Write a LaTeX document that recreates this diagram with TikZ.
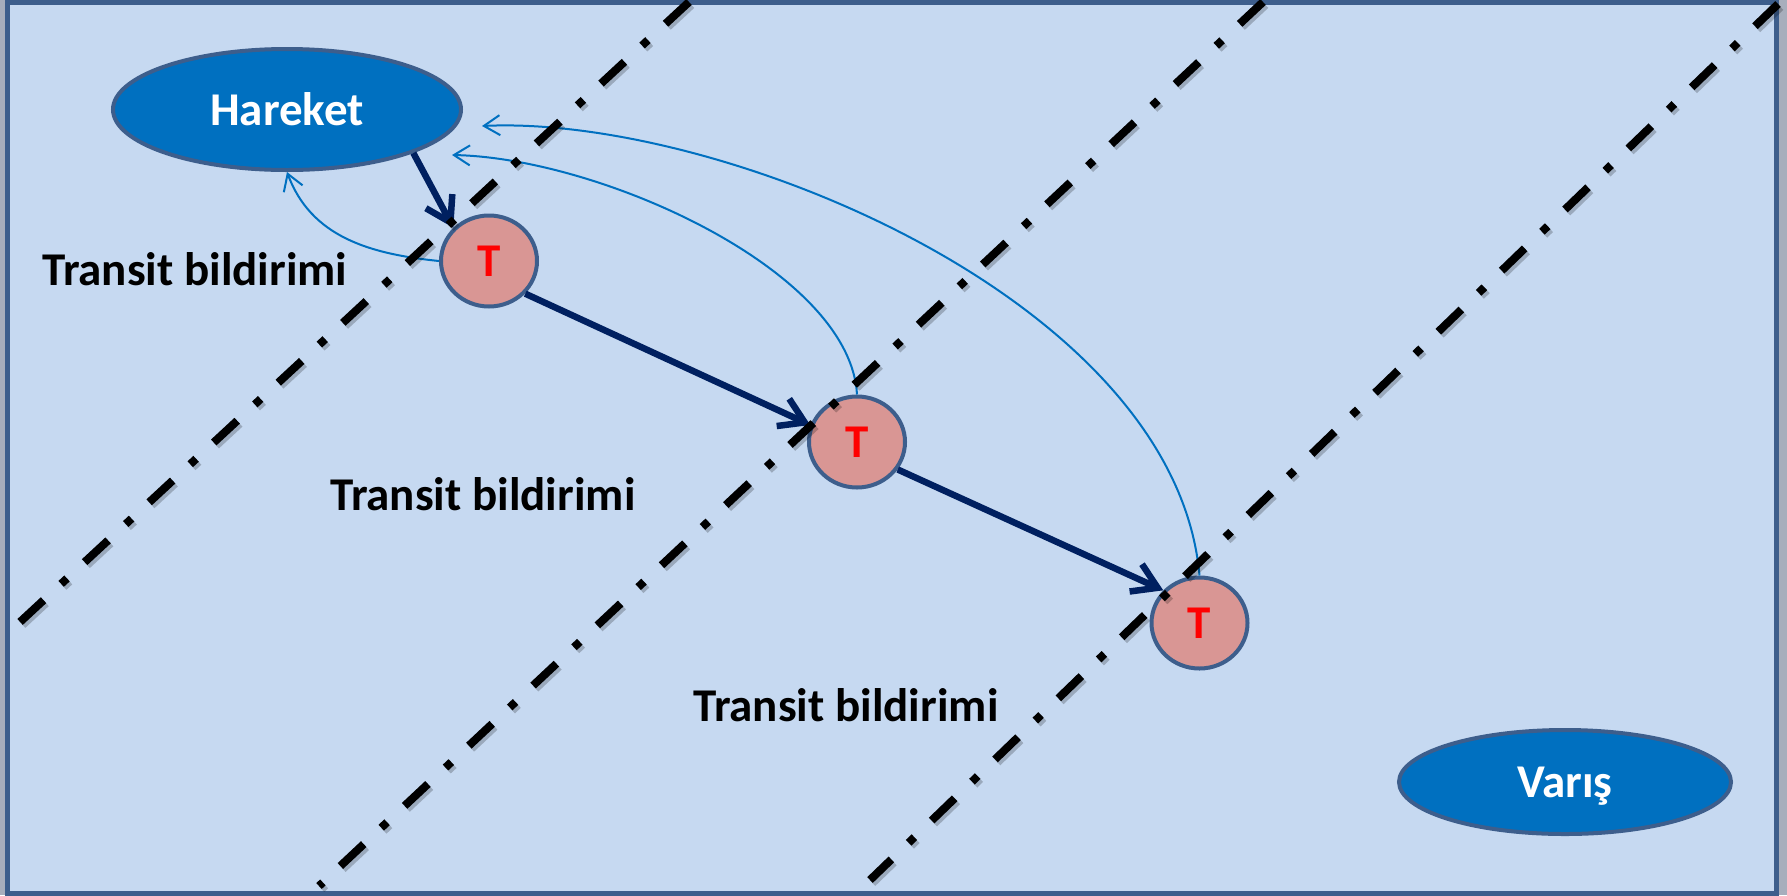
\documentclass[tikz,border=0pt]{standalone}
\usepackage{fontspec}
\setmainfont{Carlito}
\usetikzlibrary{arrows.meta,shapes.geometric}
\definecolor{bgblue}{HTML}{C6D9F1}
\definecolor{frameblue}{HTML}{3D5E8C}
\definecolor{ovalblue}{HTML}{0070C0}
\definecolor{pinkfill}{HTML}{D99694}
\definecolor{navy}{HTML}{002060}
\definecolor{outerbg}{HTML}{A7AEBC}
\begin{document}
\begin{tikzpicture}[x=1pt,y=-1pt,
  bigfont/.style={font=\fontsize{47}{56}\selectfont\bfseries},
  bluebox/.style={ellipse, draw=frameblue, line width=4pt, fill=ovalblue, text=white, bigfont, inner sep=0pt, text depth=0pt},
  tnode/.style={ellipse, draw=frameblue, line width=4pt, fill=pinkfill, text=red, bigfont, inner sep=0pt, minimum width=96pt, minimum height=91pt},
  lbl/.style={bigfont, text=black, inner sep=0pt, anchor=base west},
  flowarrow/.style={draw=navy, line width=6.5pt, -{Straight Barb[length=24pt,width=30pt]}},
  backarrow/.style={draw=ovalblue, line width=2pt, -{Straight Barb[length=16pt,width=20pt]}},
  sepline/.style={line width=8pt, dash pattern=on 32pt off 24pt on 8pt off 24pt},
  sepshadow/.style={sepline, draw=black, opacity=0.22}]
\useasboundingbox (0,0) rectangle (1787,895);
\fill[outerbg] (0,0) rectangle (1787,895);
\draw[frameblue, line width=5pt, fill=bgblue] (7.5,2.5) rectangle (1776.5,893.5);

% nodes
\node[bluebox, minimum width=348pt, minimum height=121pt] (Hareket) at (287,109.5) {Hareket};
\node[bluebox, minimum width=332pt, minimum height=104pt] (Varis) at (1565,782) {Varış};
\node[tnode] (T1) at (489,261) {T};
\node[tnode] (T2) at (857,442) {T};
\node[tnode] (T3) at (1199.5,623) {T};

% labels
\node[lbl] (L1) at (42,285) {Transit bildirimi};
\node[lbl] (L2) at (330,510) {Transit bildirimi};
\node[lbl] (L3) at (693,721) {Transit bildirimi};

% flow arrows
\draw[flowarrow] (Hareket.-19) -- (T1.137);
\draw[flowarrow] (T1.-42.5) -- (T2.160);
\draw[flowarrow] (T2.-34) -- (T3.138);

% notification arrows
\coordinate (h2) at (452,155);
\coordinate (h3) at (482,126);
\draw[backarrow] (T1.west) .. controls (370,254) and (311,237) .. (Hareket.south);
\draw[backarrow] (T2.north) .. controls (850,270) and (600,158) .. (h2);
\draw[backarrow] (T3.north) .. controls (1175,300) and (720,115) .. (h3);

% separator lines
\coordinate (s1a) at (689,2);   \coordinate (s1b) at (20,622);
\coordinate (s2a) at (1263,2);  \coordinate (s2b) at (319,886);
\coordinate (s3a) at (1778,4);  \coordinate (s3b) at (870,880);
\foreach \a/\b in {s1a/s1b, s2a/s2b, s3a/s3b}{
  \draw[sepshadow] ([shift={(2.5,3)}]\a) -- ([shift={(2.5,3)}]\b);
  \draw[sepline, draw=black] (\a) -- (\b);
}
\end{tikzpicture}
\end{document}
